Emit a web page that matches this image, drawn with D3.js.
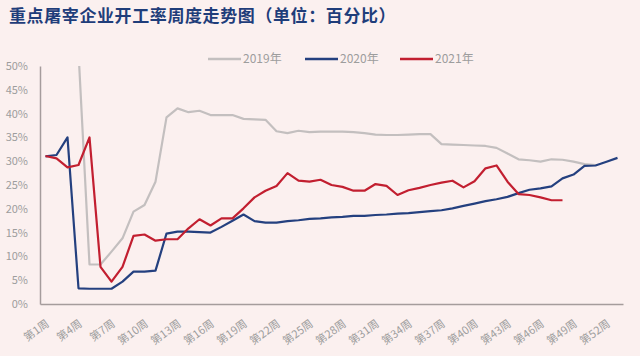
<!DOCTYPE html>
<html><head><meta charset="utf-8">
<script src="https://cdn.jsdelivr.net/npm/d3@7"></script>
<style>
html,body{margin:0;padding:0;background:#fbf0ef;}
svg{display:block;}
</style></head>
<body>
<svg id="c" width="640" height="356"></svg>
<script>
const weeks = d3.range(1, 54);
const tickWeeks = [1,4,7,10,13,16,19,22,25,28,31,34,37,40,43,46,49,52];
const yTicks = [0,5,10,15,20,25,30,35,40,45,50];
const title = "重点屠宰企业开工率周度走势图（单位：百分比）";
const seriesNames = ["2019年","2020年","2021年"];
const seriesColors = ["#c3bfbf","#24407f","#c21f30"];

// 2019: weeks 4..51
const start2019 = 4;
const v2019 = [53,8.3,8.3,11.0,13.8,19.4,20.8,25.7,39.2,41.1,40.3,40.6,39.7,39.7,39.7,38.9,38.8,38.7,36.3,35.9,36.4,36.1,36.2,36.2,36.2,36.1,35.9,35.6,35.5,35.5,35.6,35.7,35.7,33.6,33.5,33.4,33.3,33.2,32.8,31.6,30.4,30.2,29.9,30.4,30.3,29.9,29.4,29.2];
// 2020: weeks 1..53
const v2020 = [31,31.3,35,3.3,3.2,3.2,3.2,4.7,6.8,6.8,7.0,14.8,15.2,15.2,15.1,15.0,16.2,17.5,18.8,17.4,17.1,17.1,17.4,17.6,17.9,18.0,18.2,18.3,18.5,18.5,18.7,18.8,19.0,19.1,19.3,19.5,19.7,20.1,20.6,21.1,21.6,22.0,22.5,23.3,24.0,24.3,24.7,26.4,27.2,29.0,29.1,29.9,30.7];
// 2021: weeks 1..48
const v2021 = [31.1,30.6,28.7,29.2,35.0,7.8,4.7,7.8,14.3,14.6,13.3,13.6,13.6,15.9,17.8,16.5,18.0,18.0,20.1,22.4,23.8,24.8,27.5,25.9,25.7,26.1,25.0,24.6,23.8,23.8,25.2,24.8,22.9,23.9,24.4,25.0,25.5,25.9,24.5,25.8,28.5,29.1,25.7,23.1,22.9,22.4,21.8,21.8];

const svg = d3.select("#c");
const mLeft = 40, mRight = 623, mTop = 66, mBottom = 304;

const x = d3.scaleBand().domain(weeks).range([mLeft, mRight]).padding(0);
const xc = w => x(w) + x.bandwidth()/2;
const y = d3.scaleLinear().domain([0,50]).range([mBottom, mTop]);

// title
svg.append("text").attr("x", 9).attr("y", 22)
  .attr("font-family", "'Noto Sans CJK SC', sans-serif").attr("font-weight", "bold")
  .attr("font-size", 17).attr("fill", "#1f3d7a").attr("letter-spacing", 0.6)
  .text(title);

// clip
svg.append("clipPath").attr("id","clip").append("rect")
  .attr("x", mLeft).attr("y", mTop).attr("width", mRight-mLeft).attr("height", mBottom-mTop);

// y axis labels
const yAxis = d3.axisLeft(y).tickValues(yTicks).tickFormat(d => d + "%").tickSize(0).tickPadding(12);
const gy = svg.append("g").attr("transform", `translate(${mLeft},0)`).call(yAxis);
gy.select(".domain").attr("stroke", "#a59c9c").attr("stroke-width", 1.5);
gy.selectAll("text").attr("font-family", "'Noto Sans CJK SC', sans-serif").attr("font-size", 11).attr("fill", "#9d9d9d");

// x axis
const xAxis = d3.axisBottom(x).tickValues(tickWeeks).tickFormat(d => "第" + d + "周").tickSize(0);
const gx = svg.append("g").attr("transform", `translate(0,${mBottom})`).call(xAxis);
gx.select(".domain").attr("stroke", "#a59c9c").attr("stroke-width", 1.5);
gx.selectAll("text")
  .attr("font-family", "'Noto Sans CJK SC', sans-serif").attr("font-size", 11).attr("fill", "#9d9d9d")
  .attr("text-anchor", "end")
  .attr("transform", "translate(0,15) rotate(-36)")
  .attr("dy", "0.7em").attr("y", 0).attr("x", 0);

// lines
const line = d3.line().x(d => xc(d.w)).y(d => y(d.v));
const data = [
  v2019.map((v,i) => ({w: start2019 + i, v})),
  v2020.map((v,i) => ({w: 1 + i, v})),
  v2021.map((v,i) => ({w: 1 + i, v}))
];
const gl = svg.append("g").attr("clip-path", "url(#clip)");
data.forEach((d,i) => {
  gl.append("path").datum(d).attr("d", line).attr("fill","none")
    .attr("stroke", seriesColors[i]).attr("stroke-width", 2.2)
    .attr("stroke-linejoin","round");
});

// legend
const legX = [208, 305, 400];
seriesNames.forEach((n,i) => {
  const g = svg.append("g").attr("transform", `translate(${legX[i]},59)`);
  g.append("line").attr("x1",0).attr("x2",33).attr("y1",0).attr("y2",0)
    .attr("stroke", seriesColors[i]).attr("stroke-width", 2.5);
  g.append("text").attr("x", 35).attr("y", 0).attr("dy","0.35em")
    .attr("font-family", "'Noto Sans CJK SC', sans-serif").attr("font-size", 12).attr("fill", "#9d9d9d")
    .text(n);
});
</script>
</body></html>
